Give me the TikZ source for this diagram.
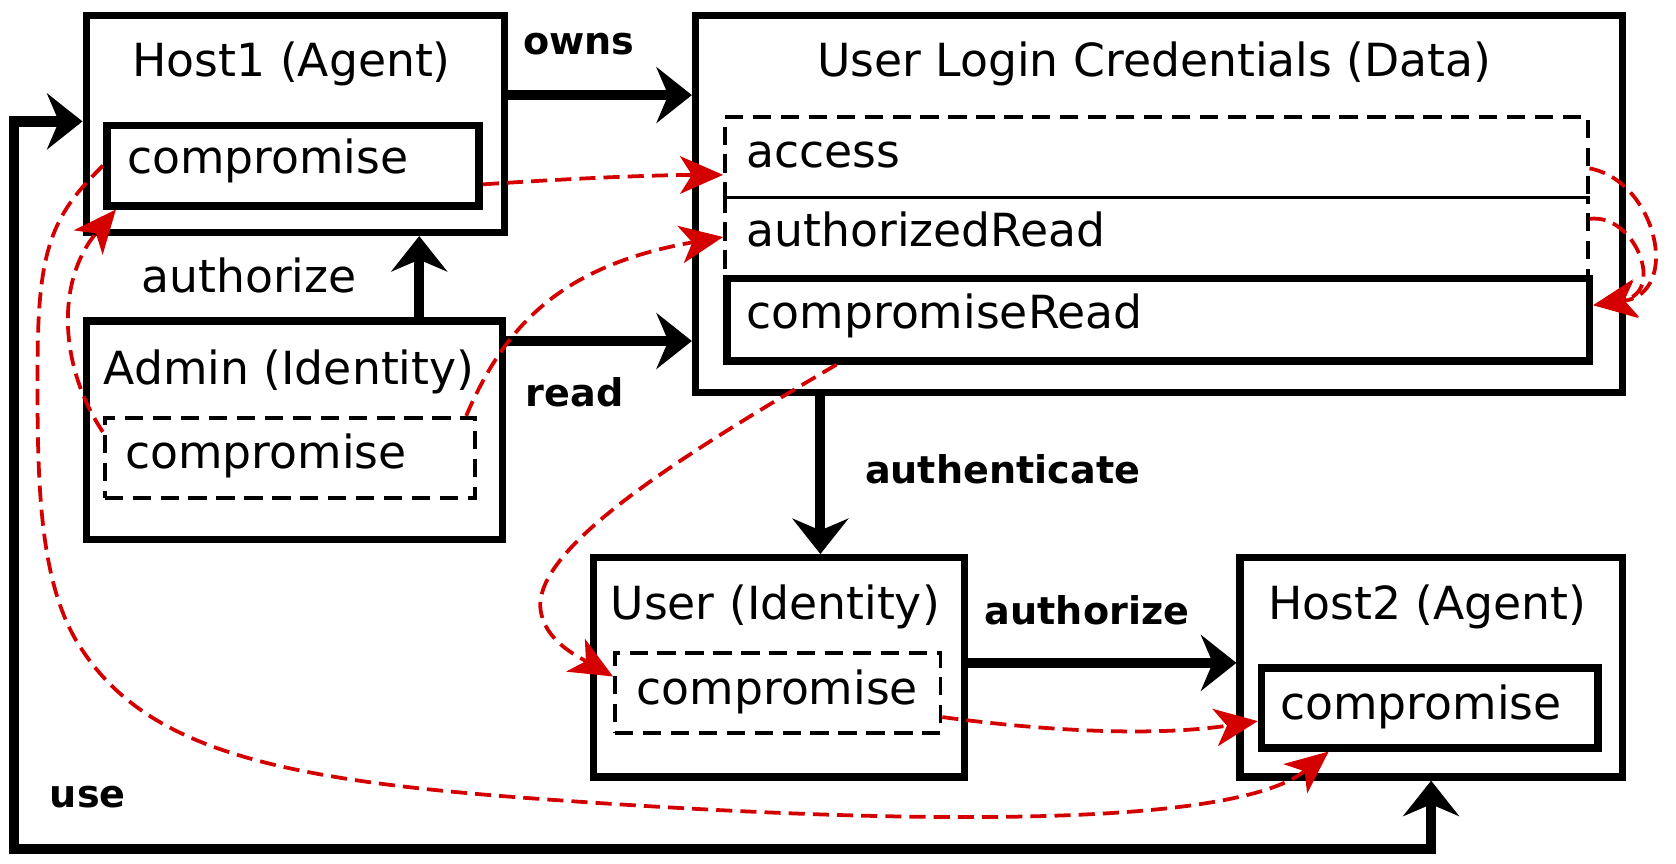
\documentclass[tikz,border=0pt]{standalone}
\usepackage{fontspec}
\setmainfont{DejaVu Sans}
\usetikzlibrary{arrows.meta,calc}
\definecolor{myred}{RGB}{212,0,0}
\begin{document}
\begin{tikzpicture}[x=1pt,y=-1pt,
 box/.style={draw, line width=6.8pt, rectangle, inner sep=0pt, anchor=north west},
 solidin/.style={draw, line width=7pt, rectangle, inner sep=0pt, anchor=north west},
 dashin/.style={draw, line width=3.5pt, dash pattern=on 17pt off 9pt, rectangle, inner sep=0pt, anchor=north west},
 ttl/.style={font=\fontsize{42.5}{50}\selectfont, anchor=base, inner sep=0pt},
 itm/.style={font=\fontsize{42.5}{50}\selectfont, anchor=base west, inner sep=0pt},
 lbl/.style={font=\fontsize{35.5}{42}\bfseries\selectfont, anchor=base, inner sep=0pt},
 arr/.style={line width=9.5pt, -{Stealth[length=33pt,width=52pt,inset=11pt]}},
 arrboth/.style={line width=9.5pt, {Stealth[length=33pt,width=52pt,inset=11pt]}-{Stealth[length=33pt,width=52pt,inset=11pt]}},
 rarr/.style={myred, line width=3.5pt, dash pattern=on 15pt off 7.5pt, -{Stealth[length=40pt,width=35pt,inset=11pt]}},
]
\useasboundingbox (0,0) rectangle (1560,803.3);

% boxes
\node[box, minimum width=389.5pt, minimum height=202pt] (h1) at (76.8,10.9) {};
\node[solidin, minimum width=346.5pt, minimum height=74.7pt] (h1c) at (95.9,113.3) {};
\node[box, minimum width=387.5pt, minimum height=203pt] (adm) at (76.8,295.5) {};
\node[dashin, minimum width=344.7pt, minimum height=74.6pt] (admc) at (95.7,387.1) {};
\node[box, minimum width=862.5pt, minimum height=351pt] (ulc) at (644,10.9) {};
\node[dashin, minimum width=803pt, minimum height=75pt] (acc) at (673,107) {};
\node[dashin, dash phase=13pt, minimum width=803pt, minimum height=73.7pt] (ar) at (673,182) {};
\node[solidin, minimum width=803pt, minimum height=76.7pt] (cr) at (673,255.7) {};
\node[box, minimum width=345.8pt, minimum height=204.1pt] (usr) at (548.7,515.7) {};
\node[dashin, minimum width=303pt, minimum height=74.6pt] (usrc) at (570.6,606) {};
\node[box, minimum width=355.7pt, minimum height=204.1pt] (h2) at (1150.8,515.7) {};
\node[solidin, minimum width=313pt, minimum height=74.1pt] (h2c) at (1170.7,618.4) {};

% texts
\node[ttl] (t1) at (271.5,71.4) {Host1 (Agent)};
\node[itm] (t2) at (118.2,161.8) {compromise};
\node[ttl] (t3) at (269,357.8) {Admin (Identity)};
\node[itm] (t4) at (116.5,436.5) {compromise};
\node[ttl] (t5) at (1074.3,71.4) {User Login Credentials (Data)};
\node[itm] (t6) at (694.8,155.8) {access};
\node[itm] (t7) at (694.8,229.5) {authorizedRead};
\node[itm] (t8) at (694.8,306.1) {compromiseRead};
\node[ttl] (t9) at (721.6,576.7) {User (Identity)};
\node[itm] (t10) at (592.4,655.4) {compromise};
\node[ttl] (t11) at (1328.6,576.7) {Host2 (Agent)};
\node[itm] (t12) at (1191.5,669.4) {compromise};

% labels
\node[lbl] (lowns) at (538.8,50.5) {owns};
\node[lbl] (lread) at (534.8,378) {read};
\node[lbl] (lauth) at (933.2,450) {authenticate};
\node[lbl] (lauz) at (1011.7,581) {authorize};
\node[lbl] (luse) at (81.7,751.7) {use};
\node[ttl] (lauz1) at (231.8,272.5) {authorize};

% black arrows
\draw[arr] ([yshift=-77.6pt]h1.north east) coordinate (o1) -- (o1 -| ulc.west);
\draw[arr] ([yshift=-21.9pt]adm.north east) coordinate (r1) -- (r1 -| ulc.west);
\draw[arr] ([xshift=116.25pt]adm.north) coordinate (a1) -- (a1 |- h1.south);
\draw[arr] ([xshift=-315.05pt]ulc.south) coordinate (a2) -- (a2 |- usr.north);
\draw[arr] ([yshift=-101.3pt]usr.north east) coordinate (a3) -- (a3 -| h2.west);
\coordinate (ucorner) at (13.3,790);
\draw[arrboth] (h2.south) |- (ucorner) |- ([yshift=-102.1pt]h1.north west);

% red arrows
\draw[rarr] ([yshift=-17.45pt]h1c.east) .. controls (518,167) and (597.4,163) .. ([yshift=-16.5pt]acc.west);
\draw[rarr] ([xshift=-10pt]admc.north east) .. controls (468.2,307.5) and (517.9,247.7) .. (ar.west);
\draw[rarr] ([yshift=-14.9pt]admc.north west) .. controls (55.9,342.3) and (51,262.7) .. ([xshift=12pt]h1c.south west);
\draw[rarr] (h1c.west) .. controls (51,198) and (36.1,227.8) .. (35.1,327.4)
  .. controls (34.1,446.7) and (36.1,536.3) .. (70.8,596)
  .. controls (130.4,695.5) and (249.7,725.4) .. (498,743.3)
  .. controls (796.1,765.2) and (1143.8,775.2) .. ([xshift=-94pt]h2c.south);
\draw[rarr] ([yshift=-10.5pt]acc.east) .. controls (1541.2,168.2) and (1566,272.6) .. ([yshift=13.45pt]cr.east);
\draw[rarr] ([yshift=16.85pt]ar.east) .. controls (1521.4,198) and (1551.2,272.6) .. ([yshift=13.45pt]cr.east);
\draw[rarr] ([xshift=-299.5pt]cr.south) .. controls (647.1,417) and (498,506.5) .. (503,566.2)
  .. controls (506,596.1) and (537.8,611) .. ([yshift=15.4pt]usrc.west);
\draw[rarr] ([yshift=-22.4pt]usrc.east) .. controls (974.9,680.6) and (1074.3,685.6) .. ([yshift=-12.25pt]h2c.west);
\end{tikzpicture}
\end{document}
